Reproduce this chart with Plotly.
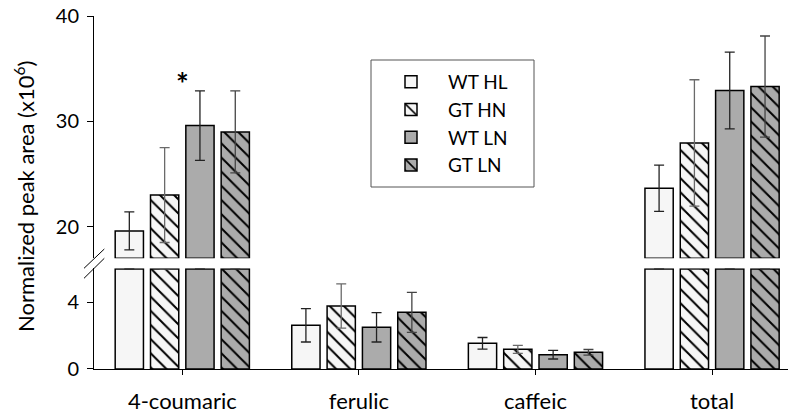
import plotly.graph_objects as go

categories = ["4-coumaric", "ferulic", "caffeic", "total"]
series_names = ["WT HL", "GT HN", "WT LN", "GT LN"]

wt_hl = [19.6, 2.62, 1.54, 23.65]
gt_hn = [23.0, 3.78, 1.18, 27.95]
wt_ln = [29.6, 2.50, 0.86, 32.93]
gt_ln = [29.0, 3.40, 1.00, 33.3]

wt_hl_err = [1.8, 1.00, 0.35, 2.2]
gt_hn_err = [4.5, 1.33, 0.24, 6.0]
wt_ln_err = [3.3, 0.88, 0.26, 3.65]
gt_ln_err = [3.9, 1.20, 0.17, 4.8]

lower_max = 6.0
upper_min = 17.0

series_values = [wt_hl, gt_hn, wt_ln, gt_ln]
series_errors = [wt_hl_err, gt_hn_err, wt_ln_err, gt_ln_err]
fills = ["#f6f6f6", "#f6f6f6", "#ababab", "#ababab"]
hatched = [False, True, False, True]
err_colors = ["#222222", "#6a6a6a", "#222222", "#444444"]

FONT = "Lato"
fig = go.Figure()

for name, vals, errs, fill, hatch, ec in zip(series_names, series_values, series_errors, fills, hatched, err_colors):
    pattern = dict(shape="\\" if hatch else "", fgcolor="black", bgcolor=fill,
                   size=10, solidity=0.2, fgopacity=1)
    # lower (broken) segment
    low_y = [min(v, lower_max) for v in vals]
    low_err = [e if v < lower_max else 0 for v, e in zip(vals, errs)]
    fig.add_trace(go.Bar(
        x=categories, y=low_y, name=name, legendgroup=name, showlegend=True,
        marker=dict(color=fill, line=dict(color="black", width=1.5), pattern=pattern),
        error_y=dict(type="data", array=low_err, visible=True, color=ec, thickness=1.3, width=5),
        cliponaxis=False, xaxis="x", yaxis="y",
    ))
    # upper segment
    up_y = [(v - upper_min) if v > upper_min else None for v in vals]
    up_err = [e if v > upper_min else None for v, e in zip(vals, errs)]
    fig.add_trace(go.Bar(
        x=categories, y=up_y, base=upper_min, name=name, legendgroup=name, showlegend=False,
        marker=dict(color=fill, line=dict(color="black", width=1.5), pattern=pattern),
        error_y=dict(type="data", array=up_err, visible=True, color=ec, thickness=1.3, width=5),
        cliponaxis=False, xaxis="x", yaxis="y2",
    ))

# axis break marks
for y0, y1 in [(268.3, 249.0), (278.3, 258.3)]:
    fig.add_shape(type="line", xref="paper", yref="paper",
                  x0=(84 - 94) / 694, x1=(104.3 - 94) / 694,
                  y0=(369 - y0) / 353, y1=(369 - y1) / 353,
                  line=dict(color="black", width=1))

# legend frame
fig.add_shape(type="rect", xref="paper", yref="paper",
              x0=(371 - 94) / 694, x1=(534 - 94) / 694,
              y0=(369 - 187) / 353, y1=(369 - 60) / 353,
              line=dict(color="#555555", width=1), fillcolor="white", layer="above")

fig.add_annotation(x="4-coumaric", y=33.6, xref="x", yref="y2", text="<b>*</b>", showarrow=False,
                   font=dict(family=FONT, size=30, color="black"))

fig.add_annotation(x=(24 - 94) / 694, y=(369 - 197) / 353, xref="paper", yref="paper",
                   xanchor="center", yanchor="middle",
                   text="Normalized peak area (x10<sup>6</sup>)", textangle=-90, showarrow=False,
                   font=dict(family=FONT, size=22, color="black"))

fig.update_layout(
    width=788, height=416,
    margin=dict(l=94, r=0, t=16, b=47),
    paper_bgcolor="white", plot_bgcolor="white",
    barmode="group", bargap=0.2, bargroupgap=0.2,
    font=dict(family=FONT, size=19, color="black"),
    xaxis=dict(type="category", range=[-0.5, 3.43], showline=True, linecolor="black", linewidth=1,
               ticks="outside", ticklen=5, tickcolor="black", showgrid=False, zeroline=False,
               anchor="y", tickfont=dict(size=22), ticklabelstandoff=8),
    yaxis=dict(domain=[0, 0.2853], range=[0, 6.04], tickvals=[0, 4], showline=True,
               linecolor="black", linewidth=1, ticks="outside", ticklen=6, tickcolor="black",
               showgrid=False, zeroline=False, anchor="x", tickfont=dict(size=20),
               ticklabelstandoff=4),
    yaxis2=dict(domain=[0.3136, 1], range=[upper_min, 40], tickvals=[20, 30, 40], showline=True,
                linecolor="black", linewidth=1, ticks="outside", ticklen=6, tickcolor="black",
                showgrid=False, zeroline=False, anchor="x", tickfont=dict(size=20),
                ticklabelstandoff=4),
    legend=dict(x=(374 - 94) / 694, y=(369 - 63) / 353, xanchor="left", yanchor="top",
                bgcolor="rgba(0,0,0,0)", borderwidth=0,
                font=dict(family=FONT, size=19), tracegroupgap=0, itemwidth=64,
                traceorder="grouped"),
    showlegend=True,
)

fig.write_html("out.html")
